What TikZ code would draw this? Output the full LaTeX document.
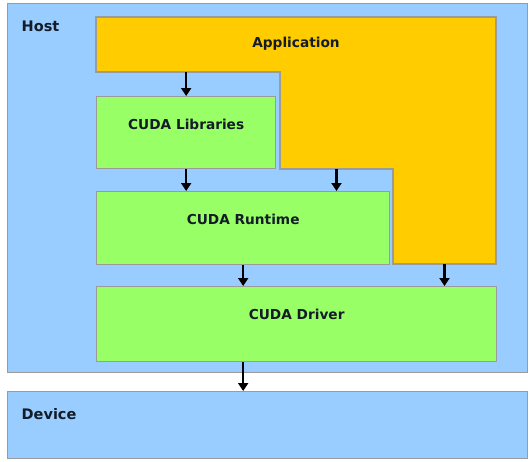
\documentclass[tikz,border=0pt]{standalone}
\usepackage{fontspec}
\setmainfont{DejaVu Sans}
\usepackage{xcolor}
\usetikzlibrary{arrows.meta,calc}

\definecolor{hostblue}{RGB}{153,204,255}
\definecolor{appyellow}{RGB}{255,204,0}
\definecolor{cudagreen}{RGB}{153,255,102}
\definecolor{edgegray}{RGB}{155,155,155}
\definecolor{inkdark}{RGB}{20,28,40}

\begin{document}
\begin{tikzpicture}
  [x=1pt,y=-1pt,
   every node/.style={font=\fontsize{13.7}{16}\selectfont\bfseries,text=inkdark},
   box/.style={rectangle,draw=edgegray,line width=1.3pt,inner sep=0pt,anchor=north west},
   title/.style={label={[anchor=center,yshift=-28pt]north:#1}},
   side/.style={anchor=base west,inner sep=0pt,font=\fontsize{14.5}{17}\selectfont\bfseries},
   arr/.style={line width=2.2pt,-{Triangle[length=8pt,width=10pt]}}]
  \useasboundingbox (0,0) rectangle (532,461);
  \node[box,fill=hostblue,minimum width=520pt,minimum height=369pt] (host) at (7,3) {};
  \node[box,fill=hostblue,minimum width=520pt,minimum height=67pt] (dev) at (7,391) {};
  \node[side] (hostlbl) at (21.5,31.7) {Host};
  \node[side] (devlbl) at (21.5,419) {Device};

  \coordinate (a1) at (96,17);
  \coordinate (a2) at (496,17);
  \coordinate (a3) at (496,264);
  \coordinate (a4) at (393,264);
  \coordinate (a5) at (393,169);
  \coordinate (a6) at (280,169);
  \coordinate (a7) at (280,72);
  \coordinate (a8) at (96,72);
  \filldraw[fill=appyellow,draw=edgegray,line width=1.3pt]
    (a1) -- (a2) -- (a3) -- (a4) -- (a5) -- (a6) -- (a7) -- (a8) -- cycle;
  \node (app) at ($(a1)!.5!(a2)+(0,27)$) {Application};
  \coordinate (appM) at ($(a5)!.5!(a6)$);
  \coordinate (appR) at ($(a3)!.5!(a4)$);

  \node[box,fill=cudagreen,minimum width=179pt,minimum height=72pt,title=CUDA Libraries] (lib) at (96,96) {};
  \node[box,fill=cudagreen,minimum width=293pt,minimum height=73pt,title=CUDA Runtime] (rt) at (96,191) {};
  \node[box,fill=cudagreen,minimum width=400pt,minimum height=75pt,title=CUDA Driver] (drv) at (96,286) {};

  \draw[arr] (lib.north |- a8) -- (lib.north);
  \draw[arr] (lib.south) -- (lib.south |- rt.north);
  \draw[arr] (appM) -- (appM |- rt.north);
  \draw[arr] (rt.south) -- (rt.south |- drv.north);
  \draw[arr] (appR) -- (appR |- drv.north);
  \draw[arr] (rt.south |- drv.south) -- (rt.south |- dev.north);

\end{tikzpicture}
\end{document}
